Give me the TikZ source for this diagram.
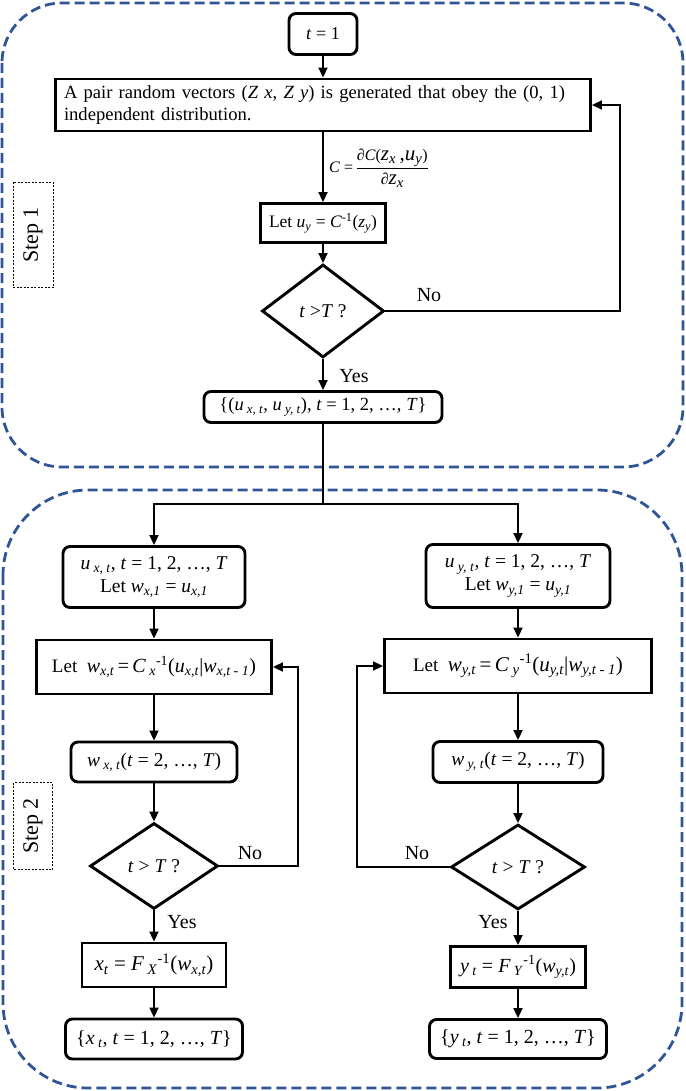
\documentclass[tikz,border=0pt]{standalone}
\usepackage{fontspec}
\setmainfont{Liberation Serif}
\usetikzlibrary{shapes.geometric,arrows.meta}
\definecolor{grpblue}{RGB}{47,85,151}
\newcommand\vi[1]{\textit{#1}}
\newcommand\sbs[1]{\textsubscript{\textit{#1}}}
\newcommand\sps[1]{\textsuperscript{#1}}
\newcommand\fs[1]{\fontsize{#1}{#1}\selectfont}
\tikzset{
  sq/.style={draw, line width=2.9pt, inner sep=2pt, align=center, font=\fontsize{19.5}{23}\selectfont},
  rd/.style={sq, rounded corners=7pt},
  dm/.style={draw, shape=diamond, line width=2.9pt, inner sep=0pt, font=\fontsize{19.5}{23}\selectfont},
  arr/.style={-{Triangle[length=10pt,width=9pt]}, line width=1.9pt},
  ln/.style={line width=1.9pt},
  grp/.style={draw=grpblue, line width=2.8pt, dash pattern=on 10pt off 5pt},
  steplab/.style={draw, dash pattern=on 2pt off 1.5pt, line width=0.8pt, rotate=90, font=\fontsize{22}{24}\selectfont},
  lab/.style={font=\fontsize{20}{22}\selectfont, inner sep=0pt}
}
\begin{document}
\begin{tikzpicture}[x=1pt,y=-1pt]
\useasboundingbox (0,0) rectangle (685,1091);
% containers
\draw[grp, rounded corners=60pt] (2,3) rectangle (683,467);
\draw[grp, rounded corners=85pt] (3,490) rectangle (682,1088);
\node[steplab, minimum width=105pt, minimum height=40pt] (s1) at (33,235) {Step 1};
\node[steplab, minimum width=87pt, minimum height=39pt] (s2) at (33,826) {Step 2};
% step 1
\node[rd, minimum width=68pt, minimum height=41pt, font=\fs{18}] (t1) at (323,34) {\vi{t} = 1};
\node[sq, minimum width=535pt, minimum height=52pt, align=left, text width=518pt, font=\fontsize{18.6}{22}\selectfont] (big) at (323,105)
  {A pair random vectors (\vi{Z x}, \vi{Z y}) is generated that obey the (0, 1)\\independent distribution.};
\node[sq, minimum width=125pt, minimum height=39pt, font=\fs{17.5}] (letu) at (323,223)
  {Let \vi{u}\sbs{y} = \vi{C}\sps{-1}(\vi{z}\sbs{y})};
\node[dm, minimum width=122pt, minimum height=93pt] (d1) at (323,311) {\vi{t} >\vi{T} ?};
\node[rd, minimum width=238pt, minimum height=31pt, font=\fs{18.5}] (U) at (323,407)
  {\{(\vi{u}\,\sbs{x, t}, \vi{u}\,\sbs{y, t}), \vi{t} = 1, 2, …, \vi{T}\}};
\node[anchor=west, inner sep=0pt, font=\fs{16}] (frac) at (329,168)
  {\vi{C} =\,$\displaystyle\frac{\mbox{∂\vi{C}(\fs{21}\vi{z}\sbs{x}\,,\vi{u}\sbs{y}\fs{16})}}{\mbox{∂\fs{21}\vi{z}\sbs{x}}}$};
\node[lab] (no1) at (429,295) {No};
\node[lab] (yes1) at (354,376) {Yes};
\coordinate (fb1) at (620,105);
\draw[arr] (t1) -- (big);
\draw[arr] (big) -- (letu);
\draw[arr] (letu) -- (d1);
\draw[arr] (d1) -- (U);
\draw[arr] (d1.east) -| (fb1) -- (big.east);
% step 2 left
\coordinate (j) at (323,504);
\node[rd, minimum width=182pt, minimum height=61pt] (ux) at (154,577)
  {\vi{u}\,\sbs{x, t}, \vi{t} = 1, 2, …, \vi{T}\\Let \vi{w}\sbs{x,1} = \vi{u}\sbs{x,1}};
\node[sq, minimum width=235pt, minimum height=54pt, font=\fs{19}] (lwx) at (154,667)
  {Let\ \ {\fs{20}\vi{w}\sbs{x,t}\,=\,\vi{C}\,\sbs{x}\sps{-1}(\vi{u}\sbs{x,t}\textbar\vi{w}\sbs{x,t - 1})}};
\node[rd, minimum width=166pt, minimum height=40pt] (wx) at (154,762)
  {\vi{w}\,\sbs{x, t}(\vi{t} = 2, …, \vi{T})};
\node[dm, minimum width=128pt, minimum height=86pt] (dx) at (154,866) {\vi{t} > \vi{T} ?};
\node[sq, minimum width=144pt, minimum height=44pt, font=\fs{21}] (xt) at (154,965)
  {\vi{x}\sbs{t} = \vi{F}\,\sbs{X}\sps{-1}(\vi{w}\sbs{x,t})};
\node[rd, minimum width=177pt, minimum height=40pt, font=\fs{20}] (xs) at (154,1039)
  {\{\vi{x}\,\sbs{t}, \vi{t} = 1, 2, …, \vi{T}\}};
\node[lab] (no2) at (250,853) {No};
\node[lab] (yes2) at (182,922) {Yes};
\coordinate (fx) at (298,667);
% step 2 right
\node[rd, minimum width=184pt, minimum height=63pt] (uy) at (518,576)
  {\vi{u}\,\sbs{y, t}, \vi{t} = 1, 2, …, \vi{T}\\Let \vi{w}\sbs{y,1} = \vi{u}\sbs{y,1}};
\node[sq, minimum width=267pt, minimum height=54pt, font=\fs{19}] (lwy) at (518,666)
  {Let\ \ {\fs{21}\vi{w}\sbs{y,t}\,=\,\vi{C}\,\sbs{y}\sps{-1}(\vi{u}\sbs{y,t}\textbar\vi{w}\sbs{y,t - 1})}};
\node[rd, minimum width=170pt, minimum height=41pt] (wy) at (518,762)
  {\vi{w}\,\sbs{y, t}(\vi{t} = 2, …, \vi{T})};
\node[dm, minimum width=134pt, minimum height=85pt] (dy) at (518,867) {\vi{t} > \vi{T} ?};
\node[sq, minimum width=135pt, minimum height=41pt, font=\fs{20}] (yt) at (518,967)
  {\vi{y}\,\sbs{t} = \vi{F}\,\sbs{Y}\sps{-1}(\vi{w}\sbs{y,t})};
\node[rd, minimum width=177pt, minimum height=39pt, font=\fs{20}] (ys) at (518,1039)
  {\{\vi{y}\,\sbs{t}, \vi{t} = 1, 2, …, \vi{T}\}};
\node[lab] (no3) at (417,853) {No};
\node[lab] (yes3) at (493,922) {Yes};
\coordinate (fy) at (357,666);
% connectors step 2
\draw[ln] (U) -- (j);
\draw[arr] (j) -| (ux);
\draw[arr] (j) -| (uy);
\draw[arr] (ux) -- (lwx);
\draw[arr] (lwx) -- (wx);
\draw[arr] (wx) -- (dx);
\draw[arr] (dx) -- (xt);
\draw[arr] (xt) -- (xs);
\draw[arr] (dx.east) -| (fx) -- (lwx.east);
\draw[arr] (uy) -- (lwy);
\draw[arr] (lwy) -- (wy);
\draw[arr] (wy) -- (dy);
\draw[arr] (dy) -- (yt);
\draw[arr] (yt) -- (ys);
\draw[arr] (dy.west) -| (fy) -- (lwy.west);
\end{tikzpicture}
\end{document}
